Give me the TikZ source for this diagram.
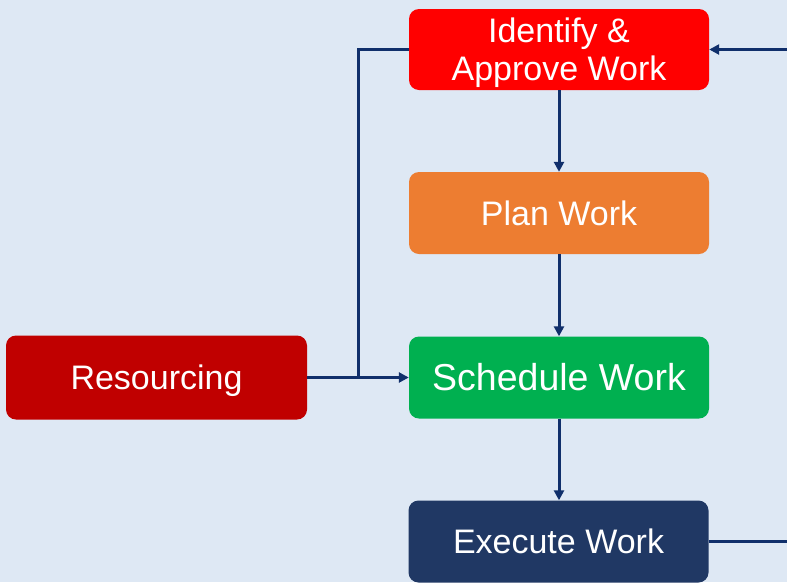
\documentclass[tikz,border=0pt]{standalone}
\usepackage{fontspec}
\setmainfont{Liberation Sans}
\usetikzlibrary{arrows.meta}
\definecolor{bgblue}{HTML}{DEE8F4}
\definecolor{linenavy}{HTML}{102F6B}
\definecolor{idred}{HTML}{FF0000}
\definecolor{planorange}{HTML}{ED7D31}
\definecolor{schedgreen}{HTML}{00B050}
\definecolor{execnavy}{HTML}{203864}
\definecolor{resred}{HTML}{C00000}
\tikzset{
  stage/.style={rounded corners=10pt, minimum width=300pt, minimum height=82pt,
    inner sep=0pt, text=white, align=center,
    font=\fontsize{34}{38}\selectfont, text height=24.3pt, text depth=0pt},
  flow/.style={draw=linenavy, line width=3pt},
  flowarrow/.style={flow, -{Triangle[length=10pt,width=10pt]}}
}
\begin{document}
\begin{tikzpicture}[x=1pt,y=-1pt]
  \fill[bgblue] (0,0) rectangle (787,582);
  \useasboundingbox (0,0) rectangle (787,582);
  \clip (0,0) rectangle (787,582);

  \node[stage, fill=idred, minimum height=81pt, text height=62.3pt] (identify) at (559,49.5) {Identify \&\\Approve Work};
  \node[stage, fill=planorange] (plan) at (559,213) {Plan Work};
  \node[stage, fill=schedgreen, font=\fontsize{37.5}{40}\selectfont, text height=26.8pt] (schedule) at (559,377.5) {Schedule Work};
  \node[stage, fill=execnavy] (execute) at (558.5,541.5) {Execute Work};
  \node[stage, fill=resred, minimum width=301pt, minimum height=84pt] (resourcing) at (156.5,377.5) {Resourcing};

  \coordinate (join) at (358,377);
  \coordinate (loop) at (800,0);

  \draw[flowarrow] (identify) -- (plan);
  \draw[flowarrow] (plan) -- (schedule);
  \draw[flowarrow] (schedule.south) -- (schedule.south |- execute.north);
  \draw[flowarrow] (resourcing.east) -- (schedule.west);
  \draw[flow] (identify.west) -| (join);
  \draw[flowarrow] (execute.east) -| (loop) |- (identify.east);
\end{tikzpicture}
\end{document}
